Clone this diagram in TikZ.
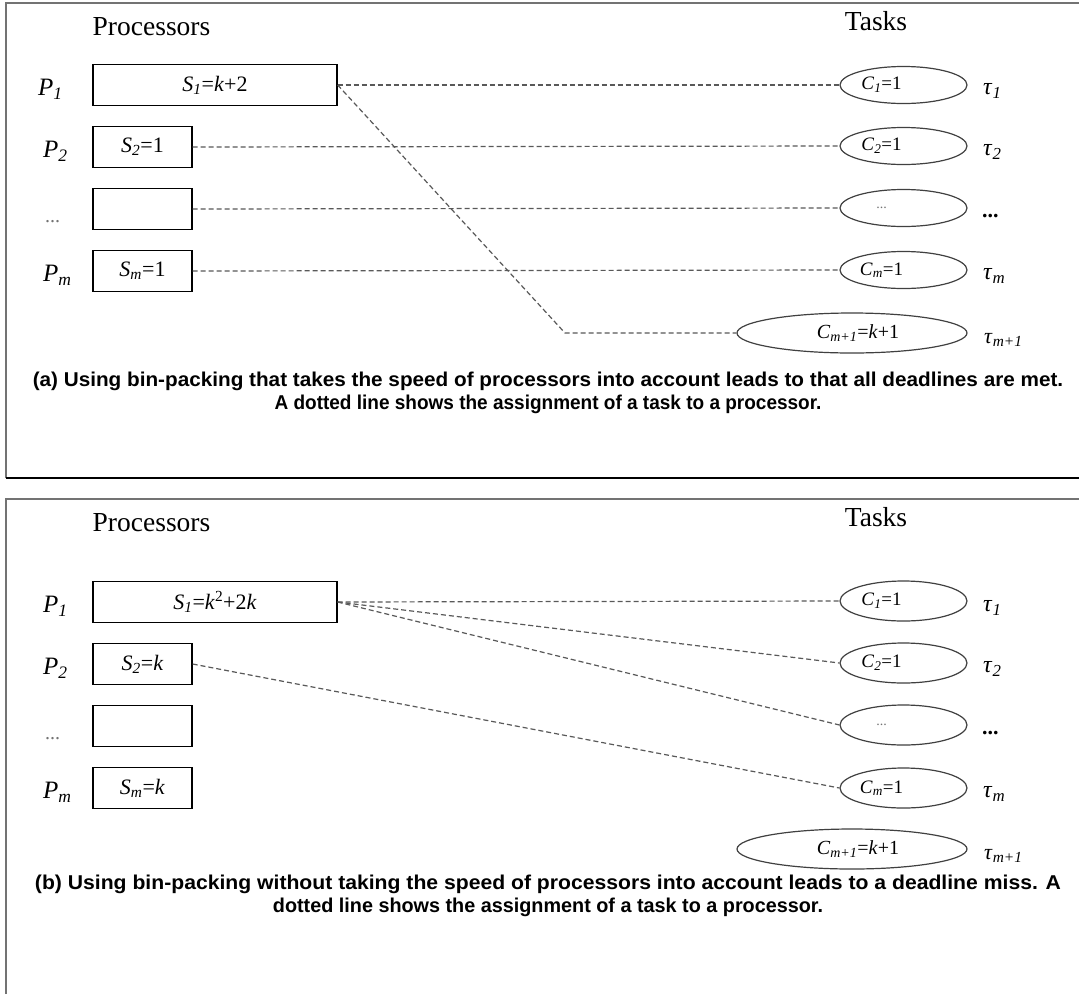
\documentclass[tikz,border=0pt]{standalone}
\usepackage{fontspec}
\setmainfont{Liberation Serif}
\newfontfamily\capfont{Liberation Sans Bold}
\usetikzlibrary{shapes.geometric}
\newcommand{\sbi}[1]{\textsubscript{\textit{#1}}}
\newcommand{\fsz}[1]{\fontsize{#1}{#1}\selectfont}
\newcommand{\lft}[1]{#1\kern44pt\relax}
\begin{document}
\begin{tikzpicture}[x=1pt,y=-1pt,
  pbox/.style={draw=black,line width=1.3pt,minimum height=41pt,inner sep=0pt,font=\fsz{22}},
  tell/.style={draw=black!75,ellipse,line width=1.2pt,minimum width=127pt,minimum height=37pt,inner sep=0pt,font=\fsz{19}},
  bigtell/.style={tell,minimum width=230pt,minimum height=40pt,font=\fsz{20}},
  assign/.style={draw=black!65,dash pattern=on 5pt off 3pt,line width=1.2pt},
  plab/.style={anchor=west,inner sep=0pt,font=\fsz{25}},
  dlab/.style={anchor=base west,inner sep=0pt,font=\fsz{20},text=black!55},
  tlab/.style={anchor=west,inner sep=0pt,font=\fsz{24}},
  rdots/.style={anchor=base west,inner sep=0pt,font=\bfseries\fsz{22}},
  head/.style={inner sep=0pt,font=\fsz{27.5}},
  capt/.style={inner sep=0pt,font=\capfont\fsz{20}},
  frameg/.style={draw=black!55,line width=2pt},
  frameb/.style={draw=black,line width=1.5pt}]
\useasboundingbox (0,0) rectangle (1079,994);
\fill[white] (0,0) rectangle (1079,994);
% ---------- panel (a) frame
\draw[frameg] (6,478) -- (6,3) -- (1079,3);
\draw[frameb] (6,478) -- (1079,478);
% ---------- panel (b) frame
\draw[frameg] (6,994) -- (6,499) -- (1079,499);

% ================= panel (a)
\node[head] (ha) at (151.5,27) {Processors};
\node[head] (ta) at (876,21) {Tasks};

\node[pbox,minimum width=244pt] (a1) at (215,85) {\textit{S}\sbi{1}=\textit{k}+2};
\node[pbox,minimum width=99pt] (a2) at (142.5,147) {\textit{S}\sbi{2}=1};
\node[pbox,minimum width=99pt] (a3) at (142.5,209) {};
\node[pbox,minimum width=99pt] (a4) at (142.5,271) {\textit{S}\sbi{m}=1};

\node[plab] (la1) at (38,89) {\textit{P}\sbi{1}};
\node[plab] (la2) at (43,151) {\textit{P}\sbi{2}};
\node[dlab] (la3) at (45,222) {...};
\node[plab] (la4) at (43,275) {\textit{P}\sbi{m}};

\node[tell] (ca1) at (903.5,85) {\lft{\textit{C}\sbi{1}=1}};
\node[tell] (ca2) at (903.5,146) {\lft{\textit{C}\sbi{2}=1}};
\node[tell,font=\fsz{14},text=black!55] (ca3) at (903.5,208) {\lft{...}};
\node[tell] (ca4) at (903.5,270) {\lft{\textit{C}\sbi{m}=1}};
\node[bigtell] (ca5) at (852,333) {\kern12pt\textit{C}\sbi{m+1}=\textit{k}+1};

\node[tlab] (ka1) at (983,91) {\textit{τ}\sbi{1}};
\node[tlab] (ka2) at (983,152) {\textit{τ}\sbi{2}};
\node[rdots] (ka3) at (982,217) {...};
\node[tlab] (ka4) at (983,276) {\textit{τ}\sbi{m}};
\node[tlab,font=\fsz{22}] (ka5) at (984,340) {\textit{τ}\sbi{m+1}};

\coordinate (bend) at (565,333);
\draw[assign] (a1.east) -- (ca1.west);
\draw[assign] (a2.east) -- (ca2.west);
\draw[assign] (a3.east) -- (ca3.west);
\draw[assign] (a4.east) -- (ca4.west);
\draw[assign] (a1.east) -- (bend) -- (ca5.west);

\node[capt] (capa1) at (548,381) {\scalebox{1.036}[1]{(a) Using bin-packing that takes the speed of processors into account leads to that all deadlines are met.}};
\node[capt] (capa2) at (548,404) {\scalebox{0.95}[1]{A dotted line shows the assignment of a task to a processor.}};

% ================= panel (b)
\node[head] (hb) at (151.5,523) {Processors};
\node[head] (tb) at (876,517) {Tasks};

\node[pbox,minimum width=244pt] (b1) at (215,602) {\textit{S}\sbi{1}=\textit{k}\textsuperscript{2}+2\textit{k}};
\node[pbox,minimum width=99pt] (b2) at (142.5,664) {\textit{S}\sbi{2}=\textit{k}};
\node[pbox,minimum width=99pt] (b3) at (142.5,726) {};
\node[pbox,minimum width=99pt] (b4) at (142.5,788) {\textit{S}\sbi{m}=\textit{k}};

\node[plab] (lb1) at (43,606) {\textit{P}\sbi{1}};
\node[plab] (lb2) at (43,668) {\textit{P}\sbi{2}};
\node[dlab] (lb3) at (45,739) {...};
\node[plab] (lb4) at (43,792) {\textit{P}\sbi{m}};

\node[tell,minimum height=40pt] (cb1) at (903.5,601) {\lft{\textit{C}\sbi{1}=1}};
\node[tell,minimum height=40pt] (cb2) at (903.5,663) {\lft{\textit{C}\sbi{2}=1}};
\node[tell,minimum height=40pt,font=\fsz{14},text=black!55] (cb3) at (903.5,725) {\lft{...}};
\node[tell,minimum height=40pt] (cb4) at (903.5,788) {\lft{\textit{C}\sbi{m}=1}};
\node[bigtell] (cb5) at (852,849) {\kern12pt\textit{C}\sbi{m+1}=\textit{k}+1};

\node[tlab] (kb1) at (983,608) {\textit{τ}\sbi{1}};
\node[tlab] (kb2) at (983,669) {\textit{τ}\sbi{2}};
\node[rdots] (kb3) at (982,734) {...};
\node[tlab] (kb4) at (983,794) {\textit{τ}\sbi{m}};
\node[tlab,font=\fsz{22}] (kb5) at (984,856) {\textit{τ}\sbi{m+1}};

\draw[assign] (b1.east) -- (cb1.west);
\draw[assign] (b1.east) -- (cb2.west);
\draw[assign] (b1.east) -- (cb3.west);
\draw[assign] (b2.east) -- (cb4.west);

\node[capt] (capb1) at (548,884) {\scalebox{1.058}[1]{(b) Using bin-packing without taking the speed of processors into account leads to a deadline miss. A}};
\node[capt] (capb2) at (548,907) {\scalebox{0.99}[1]{dotted line shows the assignment of a task to a processor.}};
\end{tikzpicture}
\end{document}
